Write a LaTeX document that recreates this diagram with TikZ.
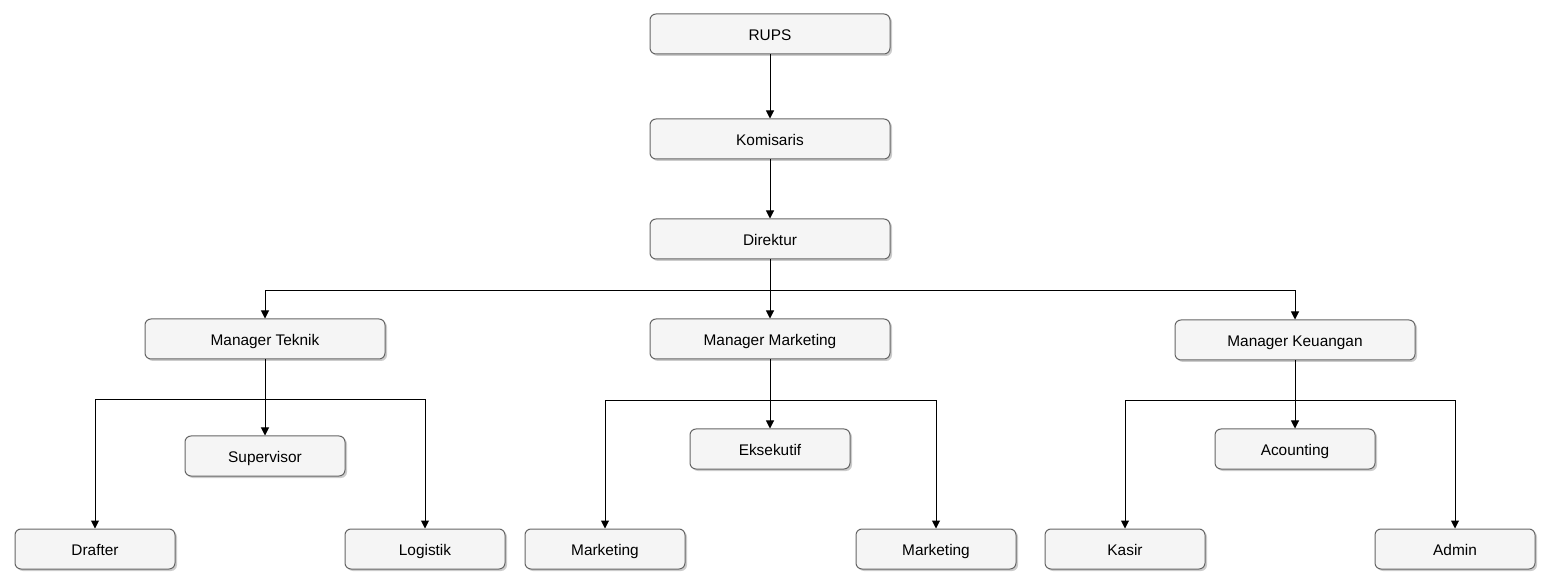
\documentclass[tikz,border=0pt]{standalone}
\usepackage{fontspec}
\setmainfont{Liberation Sans}
\usetikzlibrary{arrows.meta,shadows}

\tikzset{
  box/.style={draw=black!60, fill=black!4, rounded corners=3pt, line width=0.5pt,
    minimum width=120pt, minimum height=20pt, inner sep=0pt, font=\fontsize{7.7pt}{9pt}\selectfont,
    text height=7pt, text depth=0.6pt,
    drop shadow={shadow xshift=1pt, shadow yshift=-1pt, opacity=0.2, fill=black}},
  sbox/.style={box, minimum width=80pt},
  arr/.style={-{Triangle[length=4pt,width=4pt]}, line width=0.5pt, black}
}

\begin{document}
\begin{tikzpicture}[x=0.5pt,y=-0.5pt]
\useasboundingbox (0,0) rectangle (1554,588);

\node[box] (rups) at (770,34) {RUPS};
\node[box] (kom) at (770,139) {Komisaris};
\node[box] (dir) at (770,239) {Direktur};

\node[box] (mt) at (265,339) {Manager Teknik};
\node[box] (mm) at (770,339) {Manager Marketing};
\node[box] (mk) at (1295,340) {Manager Keuangan};

%teknik
\node[sbox] (sup) at (265,456) {Supervisor};
\node[sbox] (draft) at (95,549) {Drafter};
\node[sbox] (log) at (425,549) {Logistik};
%marketing
\node[sbox] (eks) at (770,449) {Eksekutif};
\node[sbox] (mkt1) at (605,549) {Marketing};
\node[sbox] (mkt2) at (936,549) {Marketing};
%keuangan
\node[sbox] (acc) at (1295,449) {Acounting};
\node[sbox] (kas) at (1125,549) {Kasir};
\node[sbox] (adm) at (1455,549) {Admin};

\draw[arr] (rups) -- (kom);
\draw[arr] (kom) -- (dir);

\draw[arr] (dir.south) -- ++(0,31) -| (mt.north);
\draw[arr] (dir.south) -- (mm.north);
\draw[arr] (dir.south) -- ++(0,31) -| (mk.north);

\draw[arr] (mt.south) -- (sup.north);
\draw[arr] (mt.south) -- ++(0,40) -| (draft.north);
\draw[arr] (mt.south) -- ++(0,40) -| (log.north);

\draw[arr] (mm.south) -- (eks.north);
\draw[arr] (mm.south) -- ++(0,41) -| (mkt1.north);
\draw[arr] (mm.south) -- ++(0,41) -| (mkt2.north);

\draw[arr] (mk.south) -- (acc.north);
\draw[arr] (mk.south) -- ++(0,40) -| (kas.north);
\draw[arr] (mk.south) -- ++(0,40) -| (adm.north);

\end{tikzpicture}
\end{document}
